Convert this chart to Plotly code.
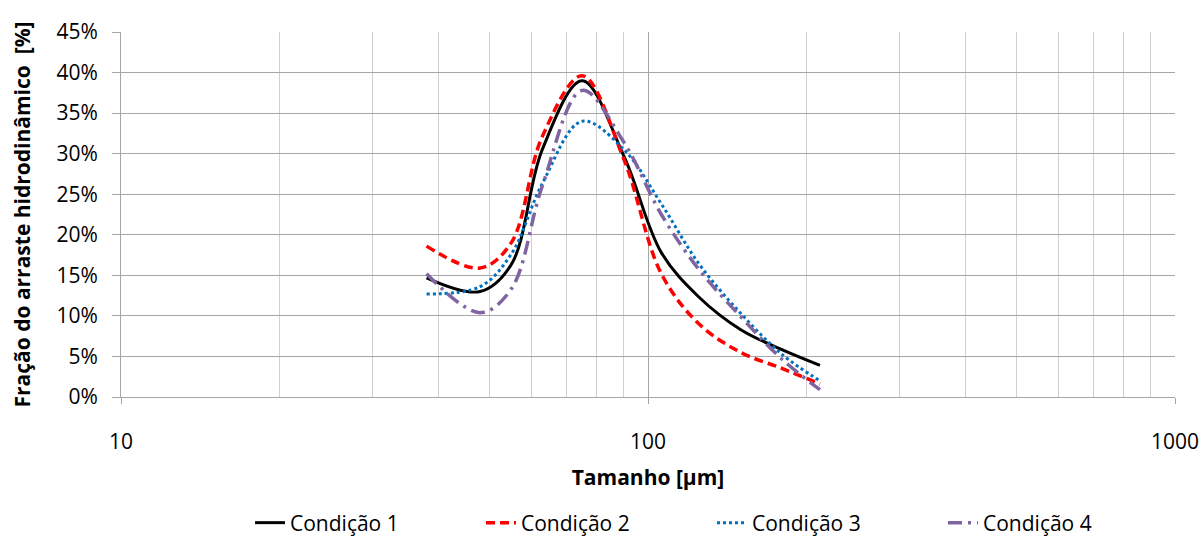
import plotly.graph_objects as go

# Particle size [µm]
tamanho = [38, 48, 55, 63, 75, 90, 106, 125, 150, 180, 212]

# Fraction of hydrodynamic entrainment [%]
condicao_1 = [14.7, 13.0, 16.3, 30.5, 39.0, 29.7, 17.8, 12.3, 8.3, 5.8, 3.9]
condicao_2 = [18.6, 15.9, 19.0, 32.1, 39.6, 29.3, 15.2, 9.0, 5.5, 3.5, 1.6]
condicao_3 = [12.7, 13.6, 17.6, 26.3, 34.0, 30.5, 23.8, 16.4, 10.3, 5.2, 2.0]
condicao_4 = [15.2, 10.4, 13.3, 26.0, 37.8, 31.4, 22.5, 15.7, 9.9, 4.6, 0.9]

series_names = ["Condição 1", "Condição 2", "Condição 3", "Condição 4"]

x_tickvals = [10, 100, 1000]
x_minorvals = [20, 30, 40, 50, 60, 70, 80, 90, 200, 300, 400, 500, 600, 700, 800, 900]
y_tickvals = [0, 5, 10, 15, 20, 25, 30, 35, 40, 45]

FONT = "Open Sans"

styles = [
    dict(color="#000000", width=3, dash="solid"),
    dict(color="#ff0000", width=3.5, dash="9px,5px"),
    dict(color="#0070c0", width=3, dash="3px,3px"),
    dict(color="#8064a2", width=3.5, dash="14px,6px,3px,6px"),
]

fig = go.Figure()
for name, ys, st in zip(series_names, [condicao_1, condicao_2, condicao_3, condicao_4], styles):
    fig.add_trace(go.Scatter(
        x=tamanho, y=ys, name=name, mode="lines",
        line=dict(color=st["color"], width=st["width"], dash=st["dash"],
                  shape="spline", smoothing=1.0),
    ))

fig.update_layout(
    width=1204, height=538,
    margin=dict(l=121, r=29, t=32, b=141, autoexpand=False),
    paper_bgcolor="white", plot_bgcolor="white",
    font=dict(family=FONT, color="#000000", size=21),
    showlegend=True,
    legend=dict(
        orientation="h",
        xref="container", yref="container",
        x=250 / 1204, xanchor="left", y=1 - 523 / 538, yanchor="middle",
        font=dict(family=FONT, size=21, color="#000000"),
        entrywidth=186, entrywidthmode="pixels",
        bgcolor="rgba(0,0,0,0)",
    ),
)

fig.update_xaxes(
    type="log", range=[1, 3],
    tickmode="array", tickvals=x_tickvals, ticktext=[str(v) for v in x_tickvals],
    showgrid=True, gridcolor="#a6a6a6", gridwidth=1,
    minor=dict(tickmode="array", tickvals=x_minorvals, showgrid=True,
               gridcolor="#d0d0d0", gridwidth=1, ticks=""),
    ticks="outside", ticklen=6, tickcolor="#a6a6a6",
    showline=True, linecolor="#a6a6a6", linewidth=1,
    tickfont=dict(family=FONT, size=21),
    ticklabelstandoff=20,
    zeroline=False, automargin=False,
    title=dict(text="<b>Tamanho [µm]</b>", font=dict(family=FONT, size=21), standoff=16),
)

fig.update_yaxes(
    range=[0, 45], tickmode="array", tickvals=y_tickvals,
    ticktext=[f"{v}%" for v in y_tickvals],
    showgrid=True, gridcolor="#a6a6a6", gridwidth=1,
    ticks="outside", ticklen=8, tickcolor="#a6a6a6",
    showline=True, linecolor="#a6a6a6", linewidth=1,
    tickfont=dict(family=FONT, size=21),
    ticklabelstandoff=10,
    zeroline=False, automargin=False,
    title=dict(text="<b>Fração do arraste hidrodinâmico  [%]</b>",
               font=dict(family=FONT, size=21), standoff=20),
)

fig.write_html("out.html")
